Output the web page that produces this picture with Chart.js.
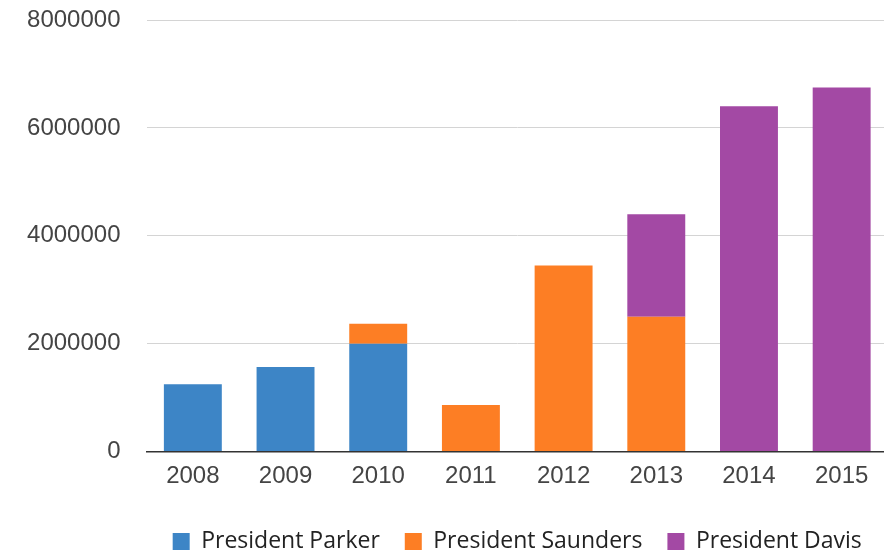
<!DOCTYPE html>
<html>
<head>
<meta charset="utf-8">
<script src="https://cdn.jsdelivr.net/npm/chart.js@4.4.1/dist/chart.umd.min.js"></script>
<style>
  html, body { margin: 0; padding: 0; background: #ffffff; overflow: hidden; }
  #wrap { position: relative; width: 890px; height: 563px; }
</style>
</head>
<body>
<div id="wrap"><canvas id="c"></canvas></div>
<script>
const categories = ['2008', '2009', '2010', '2011', '2012', '2013', '2014', '2015'];
const seriesNames = ['President Parker', 'President Saunders', 'President Davis'];
const parkerValues   = [1245000, 1565000, 2000000, null, null, null, null, null];
const saundersValues = [null, null, 370000, 860000, 3450000, 2500000, null, null];
const davisValues    = [null, null, null, null, null, 1900000, 6400000, 6750000];
const yTicks = [0, 2000000, 4000000, 6000000, 8000000];
const seriesColors = ['#3d85c6', '#fd7e24', '#a349a4'];

const seriesValues = [parkerValues, saundersValues, davisValues];

new Chart(document.getElementById('c'), {
  type: 'bar',
  data: {
    labels: categories,
    datasets: seriesNames.map((name, i) => ({
      label: name,
      data: seriesValues[i],
      backgroundColor: seriesColors[i],
      borderWidth: 0,
      barPercentage: 0.625,
      categoryPercentage: 1.0
    }))
  },
  options: {
    responsive: true,
    maintainAspectRatio: false,
    animation: false,
    layout: { padding: { top: 20, right: 2, left: 0, bottom: 0 } },
    plugins: {
      tooltip: { enabled: false },
      legend: {
        position: 'bottom',
        fullSize: false,
        labels: {
          boxWidth: 17,
          boxHeight: 17,
          padding: 25,
          color: '#222222',
          font: { family: 'Open Sans', size: 23 }
        }
      }
    },
    scales: {
      x: {
        stacked: true,
        grid: { display: false, drawTicks: false },
        border: { display: true, color: '#333333', width: 1.5 },
        ticks: {
          color: '#444444',
          padding: 10,
          font: { family: 'Liberation Sans', size: 24 }
        },
        afterFit: (s) => { s.height = 53.5; }
      },
      y: {
        stacked: true,
        min: 0,
        max: 8000000,
        afterBuildTicks: (s) => { s.ticks = yTicks.map(v => ({ value: v })); },
        grid: { color: '#d4d4d4', lineWidth: 1, drawTicks: false },
        border: { display: false },
        ticks: {
          color: '#444444',
          padding: 26,
          font: { family: 'Liberation Sans', size: 24 },
          callback: (v) => String(v)
        },
        afterFit: (s) => { s.width = 146.5; s.paddingTop = 0; s.paddingBottom = 0; }
      }
    }
  }
});
</script>
</body>
</html>
